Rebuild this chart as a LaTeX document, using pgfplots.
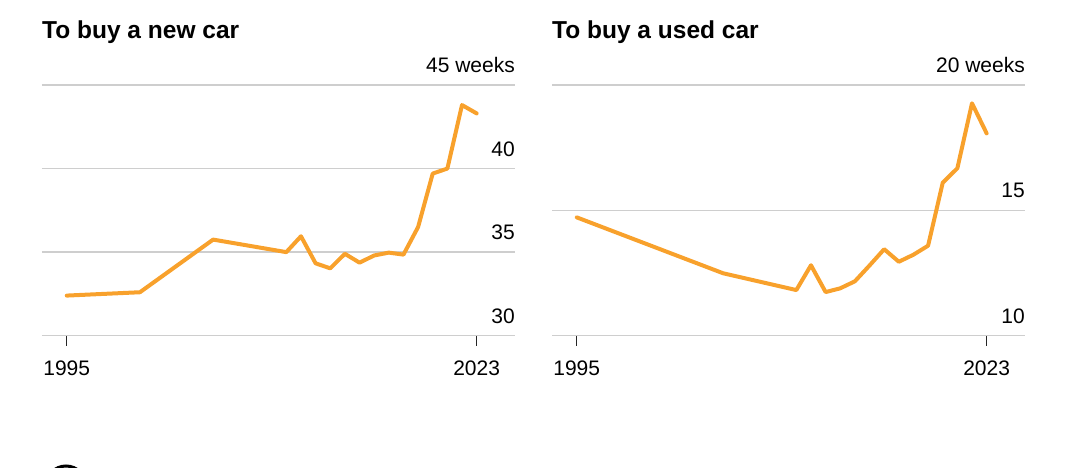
\documentclass[border=0pt]{standalone}
\usepackage{fontspec}
\setmainfont{Liberation Sans}
\usepackage{pgfplots}
\pgfplotsset{compat=1.18}
\definecolor{lineorange}{RGB}{248,161,44}
\definecolor{gridgray}{RGB}{206,206,206}

\pgfplotsset{carpanel/.style={
  scale only axis, width=473pt, height=250.7pt,
  xmin=1993.31, xmax=2025.62,
  xtick={1995,2023}, xtick pos=bottom,
  xticklabel={\pgfmathprintnumber[1000 sep={}]{\tick}},
  tick align=outside, major tick length=10pt,
  xtick style={draw=black!85, line width=1.2pt},
  ytick style={draw=none},
  axis line style={draw=none},
  ymajorgrids, grid style={gridgray, line width=1.6pt},
  yticklabel pos=right,
  yticklabel style={anchor=south east, inner sep=0pt, xshift=-10pt, yshift=12pt,
    font=\fontsize{21}{21}\selectfont},
  xticklabel style={anchor=north, inner sep=0pt, yshift=-15pt,
    font=\fontsize{21}{21}\selectfont},
  /pgf/number format/assume math mode=true,
  clip=false,
}}

\begin{document}
\begin{tikzpicture}
\path[use as bounding box] (0,0) rectangle (1080pt,468pt);
\clip (0,0) rectangle (1080pt,468pt);

\node[anchor=base west, inner sep=0pt, font=\bfseries\fontsize{24.5}{24.5}\selectfont]
  at (42pt,429pt) {To buy a new car};
\node[anchor=base west, inner sep=0pt, font=\bfseries\fontsize{24.5}{24.5}\selectfont]
  at (552pt,429pt) {To buy a used car};

% new car
\begin{axis}[carpanel, at={(42pt,132.3pt)}, anchor=south west,
  ymin=30, ymax=45, ytick={30,35,40,45},
  yticklabels={30,35,40,45 weeks}]
\addplot[lineorange, line width=4pt, line join=round, line cap=round] coordinates {
  (1995, 32.40) (2000, 32.60) (2005, 35.75) (2010, 35.00) (2011, 35.95)
  (2012, 34.33) (2013, 34.03) (2014, 34.90) (2015, 34.37) (2016, 34.80)
  (2017, 34.97) (2018, 34.85) (2019, 36.50) (2020, 39.70) (2021, 40.00)
  (2022, 43.80) (2023, 43.30)
};
\end{axis}

% used car
\begin{axis}[carpanel, at={(552pt,132.3pt)}, anchor=south west,
  ymin=10, ymax=20, ytick={10,15,20},
  yticklabels={10,15,20 weeks}]
\addplot[lineorange, line width=4pt, line join=round, line cap=round] coordinates {
  (1995, 14.72) (2005, 12.49) (2010, 11.82) (2011, 12.81) (2012, 11.74)
  (2013, 11.89) (2014, 12.17) (2015, 12.80) (2016, 13.45) (2017, 12.95)
  (2018, 13.23) (2019, 13.59) (2020, 16.10) (2021, 16.68) (2022, 19.27)
  (2023, 18.07)
};
\end{axis}

% partial logo at the bottom edge
\draw[line width=3pt] (66pt,-18pt) circle (20pt);
\end{tikzpicture}
\end{document}
